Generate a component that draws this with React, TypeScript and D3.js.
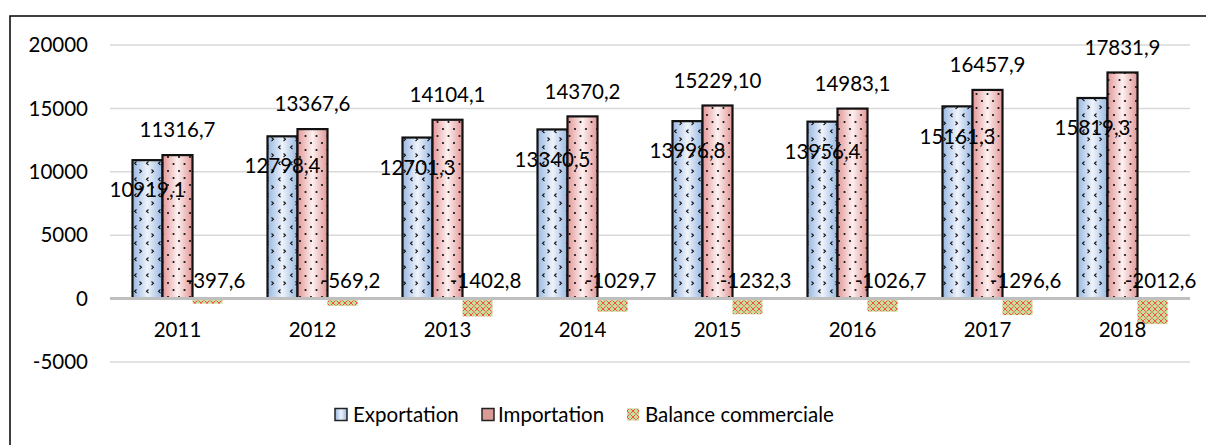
import React from "react";
import * as d3 from "d3";

const years = ["2011", "2012", "2013", "2014", "2015", "2016", "2017", "2018"];
const exportation = [10919.1, 12798.4, 12701.3, 13340.5, 13996.8, 13956.4, 15161.3, 15819.3];
const importation = [11316.7, 13367.6, 14104.1, 14370.2, 15229.1, 14983.1, 16457.9, 17831.9];
const balance = [-397.6, -569.2, -1402.8, -1029.7, -1232.3, -1026.7, -1296.6, -2012.6];
const exportLabels = ["10919,1", "12798,4", "12701,3", "13340,5", "13996,8", "13956,4", "15161,3", "15819,3"];
const importLabels = ["11316,7", "13367,6", "14104,1", "14370,2", "15229,10", "14983,1", "16457,9", "17831,9"];
const balanceLabels = ["-397,6", "-569,2", "-1402,8", "-1029,7", "-1232,3", "-1026,7", "-1296,6", "-2012,6"];
const yTicks = [-5000, 0, 5000, 10000, 15000, 20000];
const seriesNames = ["Exportation", "Importation", "Balance commerciale"];

const W = 1206;
const H = 445;
const FONT = "Lato, 'Open Sans', sans-serif";
const FS = 20.5;

export default function App() {
  const x0 = d3.scaleBand<string>().domain(years).range([110, 1190]).padding(0);
  const x1 = d3
    .scaleBand<string>()
    .domain(seriesNames)
    .range([0, x0.bandwidth()])
    .paddingInner(0)
    .paddingOuter(0.75);
  const y = d3.scaleLinear().domain([-5000, 20000]).range([362, 45]);
  const bw = x1.bandwidth();
  const y0 = y(0);

  const legendItems = [
    { name: seriesNames[0], box: 335, text: 353, fill: "url(#gExp)", stroke: "#222" },
    { name: seriesNames[1], box: 482, text: 498, fill: "#da9a98", stroke: "#222" },
    { name: seriesNames[2], box: 627, text: 645, fill: "url(#pBal)", stroke: "none" },
  ];

  return (
    <svg
      width={W}
      height={H}
      style={{ position: "absolute", left: 0, top: 0, background: "#fff" }}
      fontFamily={FONT}
    >
      <defs>
        <linearGradient id="gExp" x1="0" x2="1" y1="0" y2="0">
          <stop offset="0" stopColor="#98b7e2" />
          <stop offset="0.5" stopColor="#eef3fb" />
          <stop offset="1" stopColor="#98b7e2" />
        </linearGradient>
        <linearGradient id="gImp" x1="0" x2="1" y1="0" y2="0">
          <stop offset="0" stopColor="#e39696" />
          <stop offset="0.5" stopColor="#fdf0f0" />
          <stop offset="1" stopColor="#e39696" />
        </linearGradient>
        <pattern id="pExp" width="12" height="16" patternUnits="userSpaceOnUse">
          <path d="M4.5,1.5 L2.5,3.3 L4.5,5" fill="none" stroke="#111" strokeWidth="1.1" />
          <path d="M7.5,9.5 L9.5,11.3 L7.5,13" fill="none" stroke="#111" strokeWidth="1.1" />
        </pattern>
        <pattern id="pImp" width="11" height="14" patternUnits="userSpaceOnUse">
          <circle cx="3" cy="3" r="1.1" fill="#111" />
          <circle cx="8.5" cy="10" r="1.1" fill="#111" />
        </pattern>
        <pattern id="pBal" width="6" height="6" patternUnits="userSpaceOnUse">
          <rect width="6" height="6" fill="#c8dc9c" />
          <path d="M0.5,0.5 L5.5,5.5 M5.5,0.5 L0.5,5.5" stroke="#f0503c" strokeWidth="1" />
        </pattern>
      </defs>

      {/* outer border */}
      <rect x={10} y={16} width={W + 20} height={H + 20} fill="none" stroke="#000" strokeWidth={1.5} />

      {/* gridlines */}
      {yTicks
        .filter((t) => t !== 0)
        .map((t) => (
          <line key={t} x1={110} x2={1190} y1={y(t)} y2={y(t)} stroke="#d9d9d9" strokeWidth={1.5} />
        ))}

      {/* y tick labels */}
      {yTicks.map((t) => (
        <text key={"yt" + t} x={88} y={y(t)} dy="0.35em" textAnchor="end" fontSize={FS} fill="#000">
          {t}
        </text>
      ))}

      {/* bars */}
      {years.map((yr, i) => {
        const gx = x0(yr)!;
        const ex = gx + x1(seriesNames[0])!;
        const ix = gx + x1(seriesNames[1])!;
        const bx = gx + x1(seriesNames[2])!;
        const eTop = y(exportation[i]);
        const iTop = y(importation[i]);
        const bBot = y(balance[i]);
        return (
          <g key={yr}>
            <rect x={ex} y={eTop} width={bw} height={y0 - eTop} fill="url(#gExp)" />
            <rect x={ex} y={eTop} width={bw} height={y0 - eTop} fill="url(#pExp)" stroke="#111" strokeWidth={2.2} />
            <rect x={ix} y={iTop} width={bw} height={y0 - iTop} fill="url(#gImp)" />
            <rect x={ix} y={iTop} width={bw} height={y0 - iTop} fill="url(#pImp)" stroke="#111" strokeWidth={2.2} />
            <rect x={bx} y={y0 + 1.5} width={bw} height={bBot - y0 - 1.5} fill="url(#pBal)" />
          </g>
        );
      })}

      {/* zero axis line */}
      <line x1={110} x2={1190} y1={y0} y2={y0} stroke="#bfbfbf" strokeWidth={3} />

      {/* x labels */}
      {years.map((yr) => (
        <text key={"xl" + yr} x={x0(yr)! + x0.bandwidth() / 2} y={y0 + 31} dy="0.35em" textAnchor="middle" fontSize={FS}>
          {yr}
        </text>
      ))}

      {/* data labels */}
      {years.map((yr, i) => {
        const gx = x0(yr)!;
        const ex = gx + x1(seriesNames[0])! + bw / 2;
        const ix = gx + x1(seriesNames[1])! + bw / 2;
        const bx = gx + x1(seriesNames[2])! + bw / 2;
        return (
          <g key={"dl" + yr} fontSize={FS}>
            <text x={ex} y={y(exportation[i]) + 30} dy="0.35em" textAnchor="middle">
              {exportLabels[i]}
            </text>
            <text x={ix} y={y(importation[i]) - 25} dy="0.35em" textAnchor="middle">
              {importLabels[i]}
            </text>
            <text x={bx + 8} y={y0 - 18} dy="0.35em" textAnchor="middle">
              {balanceLabels[i]}
            </text>
          </g>
        );
      })}

      {/* legend */}
      {legendItems.map((it) => (
        <g key={it.name}>
          <rect x={it.box} y={408.5} width={12} height={12} fill={it.fill} stroke={it.stroke} strokeWidth={it.stroke === "none" ? 0 : 1.5} />
          <text x={it.text} y={414.5} dy="0.35em" fontSize={FS}>
            {it.name}
          </text>
        </g>
      ))}
    </svg>
  );
}
